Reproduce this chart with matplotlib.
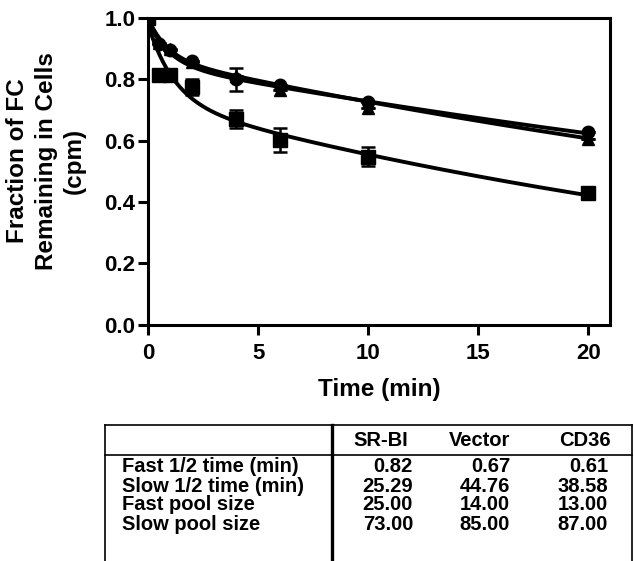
import numpy as np
import matplotlib.pyplot as plt
from matplotlib.lines import Line2D

plt.rcParams['font.family'] = ['Liberation Sans', 'DejaVu Sans']
plt.rcParams['font.weight'] = 'bold'

# measured points (time in min, fraction remaining)
time = [0, 0.5, 1, 2, 4, 6, 10, 20]
srbi = [1.0, 0.815, 0.815, 0.775, 0.672, 0.603, 0.548, 0.430]
srbi_err = [0, 0, 0, 0.027, 0.029, 0.04, 0.03, 0.015]
vector = [1.0, 0.915, 0.895, 0.86, 0.80, 0.782, 0.727, 0.627]
vector_err = [0, 0, 0, 0, 0.037, 0, 0, 0]
cd36 = [1.0, 0.92, 0.90, 0.855, 0.81, 0.765, 0.705, 0.607]
cd36_err = [0, 0, 0, 0, 0, 0, 0, 0]

# two-phase fit parameters (from the table)
row_labels = ["Fast 1/2 time (min)", "Slow 1/2 time (min)", "Fast pool size", "Slow pool size"]
col_labels = ["SR-BI", "Vector", "CD36"]
fast_half = [0.82, 0.67, 0.61]
slow_half = [25.29, 44.76, 38.58]
fast_pool = [25.00, 14.00, 13.00]
slow_pool = [73.00, 85.00, 87.00]


def two_phase(t, i):
    return (fast_pool[i] / 100 * np.exp(-np.log(2) * t / fast_half[i])
            + slow_pool[i] / 100 * np.exp(-np.log(2) * t / slow_half[i]))


fig = plt.figure(figsize=(6.35, 5.61), dpi=100)
ax = fig.add_axes([0.233, 0.421, 0.728, 0.547])

t = np.linspace(0, 20, 400)
series = [(srbi, srbi_err, 's', 10.5), (vector, vector_err, 'o', 9), (cd36, cd36_err, '^', 9)]
for i, (y, err, m, ms) in enumerate(series):
    ax.plot(t, two_phase(t, i), color='black', lw=2.8, zorder=2)
    ax.errorbar(time, y, yerr=err, fmt=m, color='black', ms=ms, capsize=5,
                elinewidth=1.8, capthick=1.8, zorder=3)

ax.set_xlim(0, 21)
ax.set_ylim(0, 1.0)
ax.set_xticks([0, 5, 10, 15, 20])
ax.set_yticks([0.0, 0.2, 0.4, 0.6, 0.8, 1.0])
ax.set_yticklabels(['0.0', '0.2', '0.4', '0.6', '0.8', '1.0'])
for s in ax.spines.values():
    s.set_linewidth(2.2)
ax.tick_params(direction='out', width=2.2, length=7, labelsize=16)
ax.tick_params(axis='x', pad=6)
ax.tick_params(axis='y', pad=2)
ax.set_xlabel("Time (min)", fontsize=17.5, fontweight='bold', labelpad=10)
ax.set_ylabel("Fraction of FC\nRemaining in Cells\n(cpm)", fontsize=17.5,
              fontweight='bold', linespacing=1.3)
ax.yaxis.set_label_coords(-0.134, 0.535)

# table drawn in figure pixels
W, H = 635, 561


def fx(px):
    return px / W


def fy(py):
    return 1 - py / H


lines = [((105, 632), (425, 425), 1.2),
         ((105, 105), (425, 561), 1.2),
         ((632, 632), (425, 561), 1.2),
         ((105, 632), (455, 455), 1.2),
         ((332, 332), (425, 561), 2.4)]
for xs, ys, lw in lines:
    fig.add_artist(Line2D([fx(xs[0]), fx(xs[1])], [fy(ys[0]), fy(ys[1])],
                          color='black', lw=lw, transform=fig.transFigure))

col_right = [413, 510, 608]
col_center = [381, 480, 585]
for j, lab in enumerate(col_labels):
    fig.text(fx(col_center[j]), fy(440), lab, ha='center', va='center',
             fontsize=14.5, fontweight='bold')

values = [fast_half, slow_half, fast_pool, slow_pool]
row_y = [466, 486, 505, 525]
for r, lab in enumerate(row_labels):
    fig.text(fx(122), fy(row_y[r]), lab, ha='left', va='center',
             fontsize=14.5, fontweight='bold')
    for j in range(3):
        fig.text(fx(col_right[j]), fy(row_y[r]), f"{values[r][j]:.2f}",
                 ha='right', va='center', fontsize=14.5, fontweight='bold')

fig.savefig("out.png", dpi=100)
